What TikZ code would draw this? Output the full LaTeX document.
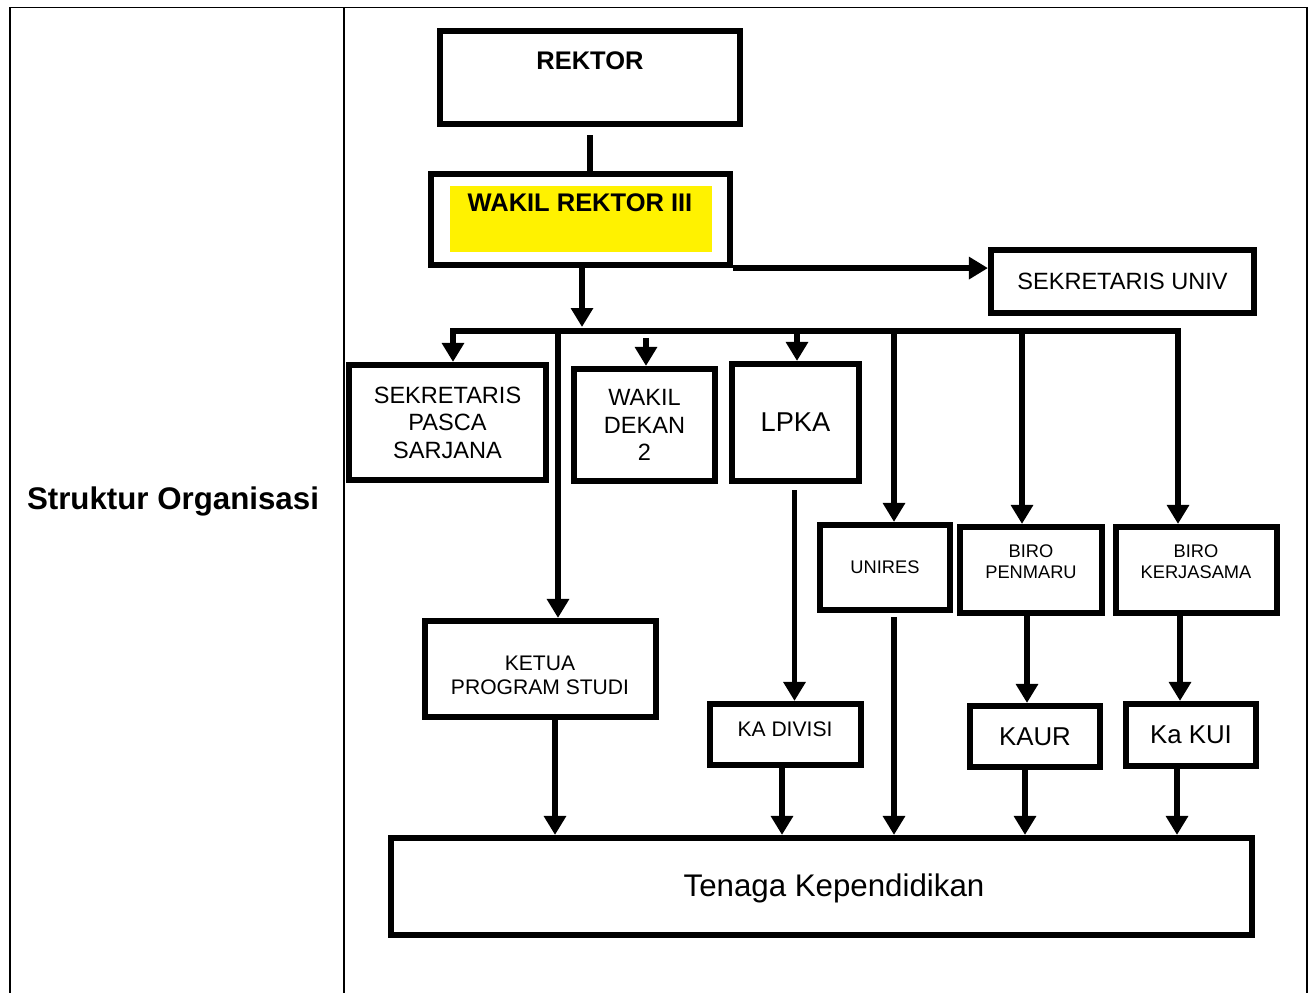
\documentclass[tikz,border=0pt]{standalone}
\usepackage{fontspec}
\setmainfont{Liberation Sans}
\usetikzlibrary{arrows.meta}
\def\upx{0.02cm}
\newcommand\setfs[2]{\fontsize{#1}{#2}\selectfont}
\begin{document}
\begin{tikzpicture}[x=0.02cm,y=-0.02cm,
  box/.style={draw,line width=3.5pt,inner sep=0pt,align=center},
  conn/.style={line width=3.1pt},
  arr/.style={conn,-{Triangle[width=12.2pt,length=10.8pt]}},
  tline/.style={line width=1.1pt},
  bigb/.style={font=\bfseries\setfs{14.5}{17}},
  mid/.style={font=\setfs{13.4}{15.6}},
  big/.style={font=\setfs{14.7}{17}},
  sml/.style={font=\setfs{12}{13.7}},
  tiny/.style={font=\setfs{10.4}{12}}]
\useasboundingbox (0,0) rectangle (1309,993);
% table frame
\coordinate (tl) at (10,7.5); \coordinate (tr) at (1307,7.5);
\coordinate (bl) at (10,993); \coordinate (br) at (1307,993);
\coordinate (dt) at (344,7.5); \coordinate (db) at (344,993);
\draw[tline] (bl) -- (tl) -- (tr) -- (br);
\draw[tline] (dt) -- (db);
\node[font=\bfseries\setfs{17.8}{20}] (title) at (173,501) {Struktur Organisasi};

% top boxes
\node[box,minimum width=300*\upx,minimum height=93*\upx] (rektor) at (590,77.5) {};
\node[bigb] (rektorT) at (590,61) {REKTOR};
\node[box,minimum width=299*\upx,minimum height=91*\upx] (wakil) at (580.5,219.5) {};
\fill[yellow] (450,186) rectangle (712,252);
\node[bigb] (wakilT) at (580,203) {WAKIL REKTOR III};
\node[box,mid,minimum width=263*\upx,minimum height=63*\upx] (sekuniv) at (1122.5,281.5) {SEKRETARIS UNIV};

% second row
\node[box,mid,minimum width=197*\upx,minimum height=115*\upx] (spasca) at (447.5,422.5) {SEKRETARIS\\PASCA\\SARJANA};
\node[box,mid,minimum width=141*\upx,minimum height=112*\upx] (wdekan) at (644.5,425) {WAKIL\\DEKAN\\2};
\node[box,minimum width=127*\upx,minimum height=117*\upx,font=\setfs{15.5}{18}] (lpka) at (795.5,422.5) {LPKA};

% third row
\node[box,tiny,minimum width=130*\upx,minimum height=85*\upx] (unires) at (885,567.5) {UNIRES};
\node[box,minimum width=142*\upx,minimum height=86*\upx] (penmaru) at (1031,570) {};
\node[tiny,align=center] (penmaruT) at (1031,562) {BIRO\\PENMARU};
\node[box,minimum width=161*\upx,minimum height=86*\upx] (kerj) at (1196.5,570) {};
\node[tiny,align=center] (kerjT) at (1196,562) {BIRO\\KERJASAMA};

% fourth row
\node[box,minimum width=231*\upx,minimum height=96*\upx] (ketua) at (540.5,669) {};
\node[sml,align=center] (ketuaT) at (540,675) {KETUA\\PROGRAM STUDI};
\node[box,sml,minimum width=151*\upx,minimum height=61*\upx] (kadiv) at (785.5,734.5) {};
\node[sml] (kadivT) at (785,729) {KA DIVISI};
\node[box,big,minimum width=130*\upx,minimum height=61*\upx] (kaur) at (1035,736.5) {KAUR};
\node[box,big,minimum width=130*\upx,minimum height=62*\upx] (kakui) at (1191,735) {Ka KUI};

% bottom
\node[box,minimum width=861*\upx,minimum height=97*\upx] (tenaga) at (821.5,886.5) {};
\node[font=\setfs{17.8}{20}] (tenagaT) at (834,888) {Tenaga Kependidikan};

% connectors top
\draw[conn] (rektor.south) ++(0,8) -- (wakil.north -| rektor.south);
\draw[arr] (wakil.south east) -- (wakil.south east -| sekuniv.west);
\coordinate (busIn) at (582,327);
\draw[arr] (wakil.south -| busIn) -- (busIn);
\coordinate (busW) at (453,331);
\coordinate (busE) at (1178,331);
\draw[arr,line cap=rect] (busE) -- (busW) -- (busW |- spasca.north);
\draw[arr] (busE) -- (busE |- kerj.north);
\coordinate (dK) at (558,331);
\draw[arr] (dK) -- (dK |- ketua.north);
\coordinate (dW) at (646,338);
\draw[arr] (dW) -- (dW |- wdekan.north);
\coordinate (dL) at (797,331);
\draw[arr] (dL) -- (dL |- lpka.north);
\coordinate (dU) at (894,331);
\draw[arr] (dU) -- (dU |- unires.north);
\coordinate (dP) at (1022,331);
\draw[arr] (dP) -- (dP |- penmaru.north);

% connectors middle
\draw[arr] (lpka.south) ++(-1,6) -- (kadiv.north -| 794.5,0);
\coordinate (uD) at (894,617);
\draw[arr] (uD) -- (uD |- tenaga.north);
\coordinate (pD) at (1027,613);
\draw[arr] (pD) -- (pD |- kaur.north);
\coordinate (kD) at (1180,613);
\draw[arr] (kD) -- (kD |- kakui.north);

% into tenaga
\coordinate (t1) at (555,717);
\draw[arr] (t1) -- (t1 |- tenaga.north);
\coordinate (t2) at (782,765);
\draw[arr] (t2) -- (t2 |- tenaga.north);
\coordinate (t3) at (1025,767);
\draw[arr] (t3) -- (t3 |- tenaga.north);
\coordinate (t4) at (1177,766);
\draw[arr] (t4) -- (t4 |- tenaga.north);
\end{tikzpicture}
\end{document}
